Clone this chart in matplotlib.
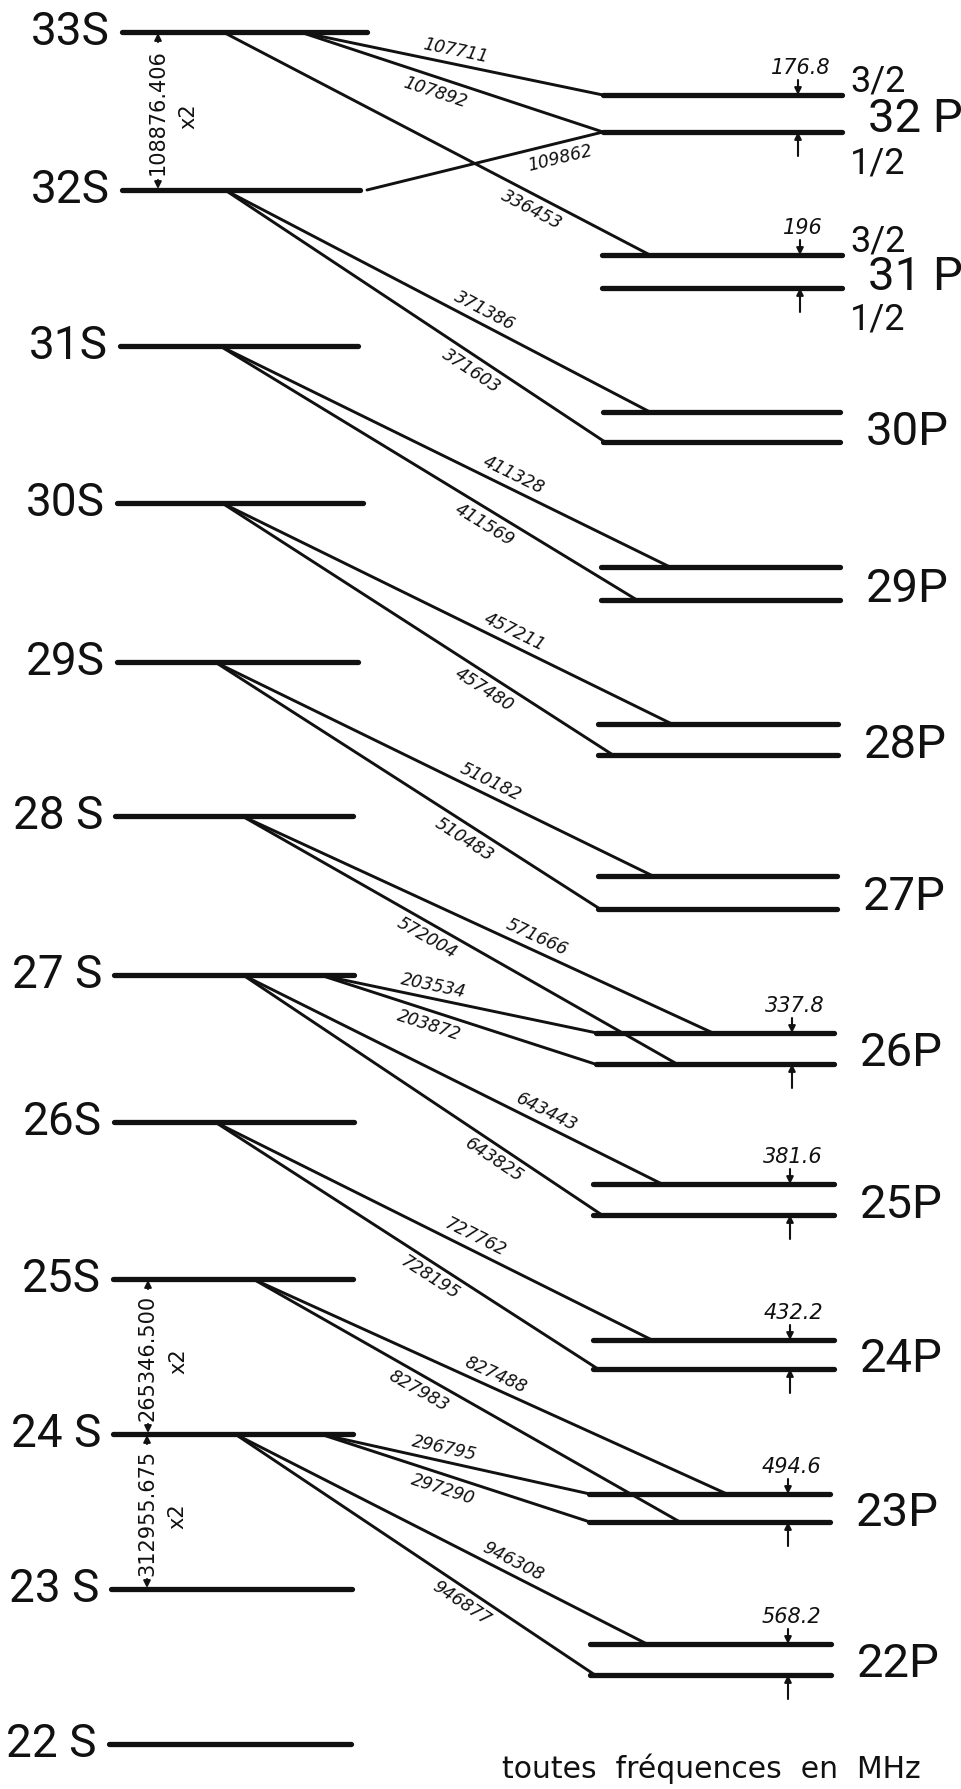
import numpy as np
import matplotlib
matplotlib.use("Agg")
import matplotlib.pyplot as plt

# ---------------- data ----------------
# S levels (left column)
s_n = [33, 32, 31, 30, 29, 28, 27, 26, 25, 24, 23, 22]
s_y = [33, 191, 347, 504, 663, 817, 976, 1123, 1280, 1435, 1590, 1745]
s_x0 = [122, 122, 120, 117, 117, 115, 114, 114, 113, 113, 111, 109]
s_x1 = [367, 360, 358, 363, 358, 353, 354, 354, 353, 353, 352, 351]
s_labels = ["33S", "32S", "31S", "30S", "29S", "28 S", "27 S", "26S", "25S",
            "24 S", "23 S", "22 S"]

# P levels (right column), fine-structure doublets
p_n = [32, 31, 30, 29, 28, 27, 26, 25, 24, 23, 22]
p_y32 = [96, 256, 413, 568, 725, 877, 1034, 1185, 1341, 1495, 1645]
p_y12 = [133, 289, 443, 601, 756, 910, 1065, 1216, 1370, 1523, 1676]
p_x0 = [603, 602, 603, 601, 598, 598, 596, 593, 593, 589, 590]
p_x1 = [842, 842, 840, 840, 838, 837, 834, 834, 834, 830, 831]
p_labels = ["32 P", "31 P", "30P", "29P", "28P", "27P", "26P", "25P", "24P",
            "23P", "22P"]

# transitions nS -> n'P_j  (frequencies in MHz)
tr_s = [33, 33, 32, 33, 32, 32, 31, 31, 30, 30, 29, 29, 28, 28, 27, 27, 27, 27,
        26, 26, 25, 25, 24, 24, 24, 24]
tr_p = [32, 32, 32, 31, 30, 30, 29, 29, 28, 28, 27, 27, 26, 26, 26, 26, 25, 25,
        24, 24, 23, 23, 23, 23, 22, 22]
tr_j = ["3/2", "1/2", "1/2", "3/2", "3/2", "1/2", "3/2", "1/2", "3/2", "1/2",
        "3/2", "1/2", "3/2", "1/2", "3/2", "1/2", "3/2", "1/2", "3/2", "1/2",
        "3/2", "1/2", "3/2", "1/2", "3/2", "1/2"]
tr_freq = ["107711", "107892", "109862", "336453", "371386", "371603",
           "411328", "411569", "457211", "457480", "510182", "510483",
           "571666", "572004", "203534", "203872", "643443", "643825",
           "727762", "728195", "827488", "827983", "296795", "297290",
           "946308", "946877"]
tr_xs = [300, 300, 367, 223, 225, 225, 220, 220, 222, 222, 215, 215, 242, 242,
         320, 320, 243, 243, 215, 215, 253, 253, 320, 320, 235, 235]
tr_xe = [603, 603, 603, 650, 650, 605, 670, 637, 672, 613, 653, 600, 713, 677,
         597, 595, 662, 602, 652, 598, 727, 680, 590, 590, 647, 595]

# fine-structure intervals (MHz)
fs_n = [32, 31, 26, 25, 24, 23, 22]
fs_val = ["176.8", "196", "337.8", "381.6", "432.2", "494.6", "568.2"]

# two-photon S-S intervals
tp_up = [33, 25, 24]
tp_low = [32, 24, 23]
tp_val = ["108876.406", "265346.500", "312955.675"]

# ---------------- layout / style ----------------
lab_t = [0.505, 0.459, 0.805, 0.738, 0.595, 0.668, 0.638, 0.652, 0.636, 0.69,
         0.616, 0.668, 0.614, 0.44, 0.40, 0.41, 0.71, 0.72, 0.58, 0.58, 0.50,
         0.405, 0.45, 0.47, 0.66, 0.65]
lab_side = [1, -1, -1, -1, 1, -1, 1, -1, 1, -1, 1, -1, 1, -1, 1, -1, 1, -1,
            1, -1, 1, -1, 1, -1, 1, -1]
fs_x = [798, 800, 792, 790, 790, 788, 788]
tp_x = [158, 148, 147]

W, H = 962, 1790
fig = plt.figure(figsize=(W / 100, H / 100), dpi=100)
ax = fig.add_axes([0, 0, 1, 1])
ax.set_xlim(0, W)
ax.set_ylim(H, 0)
ax.axis("off")

K = "#111111"
LEVEL_LW = 3.8
TR_LW = 2.1
hand = dict(family="DejaVu Sans", style="italic", color=K)

s_idx = {n: i for i, n in enumerate(s_n)}
p_idx = {n: i for i, n in enumerate(p_n)}

# S levels
for i in range(len(s_n)):
    ax.plot([s_x0[i], s_x1[i]], [s_y[i], s_y[i]], color=K, lw=LEVEL_LW,
            solid_capstyle="round")
    ax.text(s_x0[i] - 12, s_y[i] + 12, s_labels[i], family="Roboto",
            fontsize=33, ha="right", va="baseline", color=K)

# P levels
for i in range(len(p_n)):
    for yy in (p_y32[i], p_y12[i]):
        ax.plot([p_x0[i], p_x1[i]], [yy, yy], color=K, lw=LEVEL_LW,
                solid_capstyle="round")
    mid = 0.5 * (p_y32[i] + p_y12[i])
    ax.text(p_x1[i] + 26, mid + 17, p_labels[i], family="Roboto",
            fontsize=34, ha="left", va="baseline", color=K)

# j labels for 32P and 31P
for n in (32, 31):
    i = p_idx[n]
    ax.text(p_x1[i] + 8, p_y32[i] - 5, "3/2", family="Roboto", fontsize=26,
            ha="left", va="baseline", color=K)
    ax.text(p_x1[i] + 8, p_y12[i] + 40, "1/2", family="Roboto", fontsize=26,
            ha="left", va="baseline", color=K)

# transitions
for k in range(len(tr_freq)):
    ys = s_y[s_idx[tr_s[k]]]
    pi = p_idx[tr_p[k]]
    ye = p_y32[pi] if tr_j[k] == "3/2" else p_y12[pi]
    xs, xe = tr_xs[k], tr_xe[k]
    ax.plot([xs, xe], [ys, ye], color=K, lw=TR_LW, solid_capstyle="round")
    dx, dy = xe - xs, ye - ys
    L = np.hypot(dx, dy)
    nx, ny = dy / L, -dx / L  # normal pointing up on screen
    t = lab_t[k]
    off = 14 * lab_side[k]
    cx = xs + t * dx + off * nx
    cy = ys + t * dy + off * ny
    ang = -np.degrees(np.arctan2(dy, dx))
    ax.text(cx, cy, tr_freq[k], rotation=ang, rotation_mode="anchor",
            ha="center", va="center", fontsize=12.5, **hand)

# fine-structure markers
arrow = dict(arrowstyle="-|>", color=K, lw=1.5, mutation_scale=10,
             shrinkA=0, shrinkB=0)
for k, n in enumerate(fs_n):
    i = p_idx[n]
    x = fs_x[k]
    ax.annotate("", xy=(x, p_y32[i]), xytext=(x, p_y32[i] - 15),
                arrowprops=arrow)
    ax.annotate("", xy=(x, p_y12[i]), xytext=(x, p_y12[i] + 24),
                arrowprops=arrow)
    ax.text(x + 3, p_y32[i] - 28, fs_val[k], ha="center", va="center",
            fontsize=15, **hand)

# two-photon S-S intervals
for k in range(len(tp_val)):
    yu = s_y[s_idx[tp_up[k]]]
    yl = s_y[s_idx[tp_low[k]]]
    x = tp_x[k]
    ax.annotate("", xy=(x, yu + 1), xytext=(x, yu + 10), arrowprops=arrow)
    ax.annotate("", xy=(x, yl - 1), xytext=(x, yl - 10), arrowprops=arrow)
    ax.text(x, 0.5 * (yu + yl), tp_val[k], rotation=90, ha="center",
            va="center", fontsize=15, family="DejaVu Sans", color=K)
    ax.text(x + 30, 0.5 * (yu + yl) + 4, "x2", rotation=90, ha="center",
            va="center", fontsize=15, family="DejaVu Sans", color=K)

ax.text(711, 1778, "toutes  fréquences  en  MHz", ha="center",
        va="baseline", fontsize=21.5, family="DejaVu Sans", color=K)

fig.savefig("out.png", dpi=100, facecolor="white")
